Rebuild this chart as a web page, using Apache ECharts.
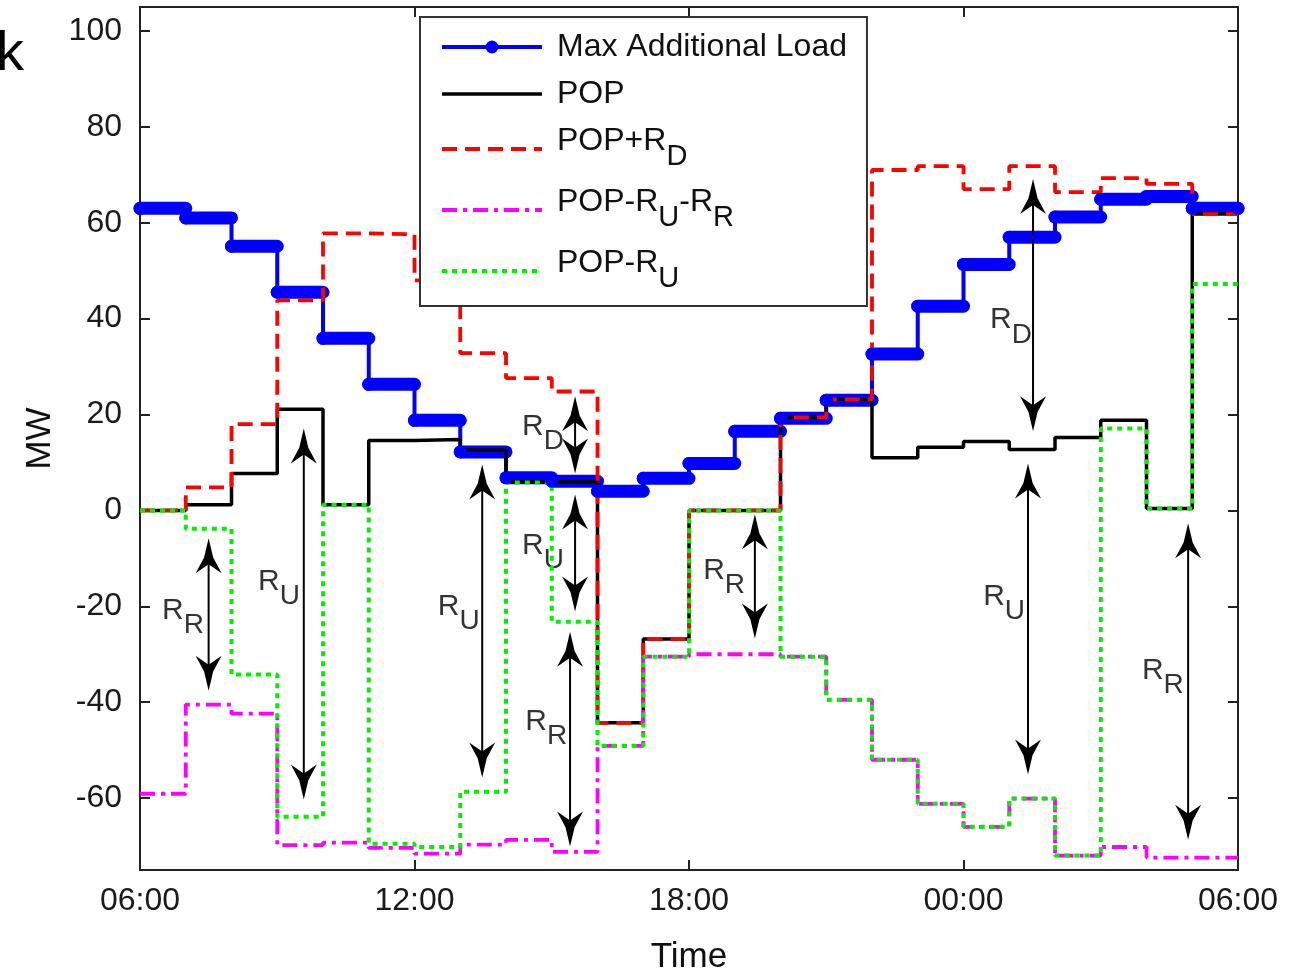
<!DOCTYPE html>
<html>
<head>
<meta charset="utf-8">
<script src="https://cdn.jsdelivr.net/npm/echarts@6/dist/echarts.min.js"></script>
<style>
html, body { margin: 0; background: #fff; }
#main { width: 1296px; height: 975px; }
</style>
</head>
<body>
<div id="main"></div>
<script>
// hour offsets from 06:00 (0 = 06:00-07:00 ... 23 = 05:00-06:00)
const hours = [0,1,2,3,4,5,6,7,8,9,10,11,12,13,14,15,16,17,18,19,20,21,22,23];
const xTickLabels = ['06:00', '12:00', '18:00', '00:00', '06:00'];
const yTickValues = [-60, -40, -20, 0, 20, 40, 60, 80, 100];

// MW values, one per hour
const maxLoad  = [63.0, 61.0, 55.1, 45.5, 35.9, 26.3, 18.8, 12.2, 6.8, 6.1, 4.0, 6.7, 9.8, 16.5, 19.2, 23.0, 32.6, 42.6, 51.3, 57.0, 61.2, 64.9, 65.5, 63.0];
const pop      = [0, 1.2, 7.7, 21.1, 1.2, 14.6, 14.8, 12.6, 6.0, 6.0, -44.3, -26.8, 0, 0, 19.4, 23.2, 11.0, 13.2, 14.4, 12.7, 15.2, 18.8, 0.4, 61.8];
const popRd    = [0, 4.8, 18.0, 43.8, 57.8, 57.6, 48.0, 32.8, 27.6, 24.8, -44.3, -26.8, 0, 0, 19.4, 23.2, 71.0, 71.8, 67.0, 71.8, 66.4, 69.3, 68.1, 61.8];
const popRuRr  = [-59.1, -40.5, -42.4, -69.8, -69.3, -70.4, -71.6, -69.7, -68.7, -71.2, -49.1, -30.5, -30.0, -30.0, -30.5, -39.5, -52.0, -61.2, -66.0, -60.1, -72.0, -70.2, -72.4, -72.4];
const popRu    = [0, -3.8, -34.2, -63.9, 1.2, -69.5, -70.2, -58.7, 5.8, -23.2, -49.1, -30.5, 0, 0, -30.5, -39.5, -52.0, -61.2, -66.0, -60.1, -72.0, 17.1, 0.4, 47.2];

// double arrows: x (hours), upper tip, lower tip (MW)
const arrowX      = [1.50, 3.58, 7.48, 9.51, 9.51, 9.40, 13.44, 19.52, 19.41, 22.91];
const arrowTop    = [-5.8, 17.1, 9.6, 23.8, 3.3, -25.3, -0.8, 69.1, 9.8, -2.7];
const arrowBottom = [-37.6, -60.3, -55.7, 7.7, -21.1, -70.1, -26.7, 16.5, -55.1, -68.7];
// arrow labels: left/top corner position and subscript
const labelX   = [0.48, 2.58, 6.51, 8.35, 8.35, 8.42, 12.31, 18.58, 18.43, 21.90];
const labelY   = [-17.8, -11.7, -16.9, 20.6, -4.2, -40.9, -9.4, 42.8, -14.8, -30.3];
const labelSub = ['R', 'U', 'U', 'D', 'U', 'R', 'R', 'D', 'U', 'R'];

const legendNames = ['Max Additional Load', 'POP', 'POP+RD', 'POP-RU-RR', 'POP-RU'];
const legendText  = ['{m|Max Additional Load}', '{m|POP}', '{m|POP+R}{s|D}', '{m|POP-R}{s|U}{m|-R}{s|R}', '{m|POP-R}{s|U}'];
const legendMarker = [true, false, false, false, false];

const FONT = 'Liberation Sans, Arial, Helvetica, sans-serif';

function stepData(vals) {
  const d = hours.map((h, i) => [h, vals[i]]);
  d.push([24, vals[vals.length - 1]]);
  return d;
}

const chart = echarts.init(document.getElementById('main'), null, { renderer: 'canvas' });

const axisLineStyle = { color: '#222', width: 2 };
const xBase = {
  type: 'value', min: 0, max: 24, interval: 6,
  axisLine: { show: true, onZero: false, lineStyle: axisLineStyle },
  axisTick: { show: true, inside: true, length: 10, lineStyle: axisLineStyle },
  splitLine: { show: false }
};
const yBase = {
  type: 'value', min: -75, max: 105,
  axisLine: { show: true, onZero: false, lineStyle: axisLineStyle },
  axisTick: { show: true, inside: true, length: 10, lineStyle: axisLineStyle, customValues: yTickValues },
  splitLine: { show: false }
};

const option = {
  backgroundColor: '#fff',
  animation: false,
  textStyle: { fontFamily: FONT },
  grid: { left: 140, top: 7, width: 1098, height: 863, containLabel: false, outerBoundsMode: 'none' },
  graphic: [
    { type: 'text', left: -4, top: 27, style: { text: 'k', fontSize: 56, fill: '#000', fontFamily: FONT } }
  ],
  legend: {
    orient: 'vertical', left: 420, top: 17,
    data: legendNames.map((n, i) => ({
      name: n,
      itemStyle: legendMarker[i] ? {} : { opacity: 0 }
    })),
    selectedMode: false,
    itemWidth: 100, itemHeight: 16, itemGap: 15,
    padding: [14, 20, 13, 20],
    borderColor: '#333', borderWidth: 2, backgroundColor: '#fff',
    lineStyle: { width: 'inherit' },
    formatter: name => legendText[legendNames.indexOf(name)],
    textStyle: {
      color: '#111', fontFamily: FONT, padding: [0, 0, 0, 10],
      rich: {
        m: { fontSize: 32, lineHeight: 32, verticalAlign: 'top', fontFamily: FONT, color: '#111' },
        s: { fontSize: 29, lineHeight: 48, verticalAlign: 'top', padding: [17, 0, 0, 0], fontFamily: FONT, color: '#111' }
      }
    }
  },
  xAxis: [
    Object.assign({}, xBase, {
      position: 'bottom',
      axisLabel: {
        fontSize: 32, color: '#1a1a1a', margin: 15, fontFamily: FONT,
        formatter: v => xTickLabels[Math.round(v / 6)]
      },
      name: 'Time', nameLocation: 'middle', nameGap: 70,
      nameTextStyle: { fontSize: 35, color: '#111', fontFamily: FONT }
    }),
    Object.assign({}, xBase, { position: 'top', axisLabel: { show: false } })
  ],
  yAxis: [
    Object.assign({}, yBase, {
      position: 'left',
      axisLabel: { fontSize: 32, color: '#1a1a1a', margin: 18, fontFamily: FONT, customValues: yTickValues },
      name: 'MW', nameLocation: 'middle', nameGap: 78, nameRotate: 90,
      nameTextStyle: { fontSize: 35, color: '#111', fontFamily: FONT }
    }),
    Object.assign({}, yBase, { position: 'right', axisLabel: { show: false } })
  ],
  series: [
    {
      // thick bands of dense markers on the Max Additional Load steps
      name: 'bands', type: 'custom',
      data: hours.map((h, i) => [h, h + 1, maxLoad[i]]),
      renderItem: (params, api) => {
        const a = api.coord([api.value(0), api.value(2)]);
        const b = api.coord([api.value(1), api.value(2)]);
        return {
          type: 'line', shape: { x1: a[0], y1: a[1], x2: b[0], y2: b[1] },
          style: { stroke: '#0000ff', lineWidth: 13, lineCap: 'round' }
        };
      },
      silent: true
    },
    {
      name: 'Max Additional Load', type: 'line', step: 'end',
      data: stepData(maxLoad),
      symbol: 'circle', symbolSize: 13,
      itemStyle: { color: '#0000ff' },
      lineStyle: { color: '#0000ff', width: 4 }
    },
    {
      name: 'POP', type: 'line', step: 'end',
      data: stepData(pop), symbol: 'none',
      itemStyle: { color: '#000' },
      lineStyle: { color: '#000', width: 3.5 }
    },
    {
      name: 'POP+RD', type: 'line', step: 'end',
      data: stepData(popRd), symbol: 'none',
      itemStyle: { color: '#ff0000' },
      lineStyle: { color: '#ff0000', width: 3.8, type: [15, 8] }
    },
    {
      name: 'POP-RU-RR', type: 'line', step: 'end',
      data: stepData(popRuRr), symbol: 'none',
      itemStyle: { color: '#ff00ff' },
      lineStyle: { color: '#ff00ff', width: 3.8, type: [15, 6, 4, 6] }
    },
    {
      name: 'POP-RU', type: 'line', step: 'end',
      data: stepData(popRu), symbol: 'none',
      itemStyle: { color: '#00f000' },
      lineStyle: { color: '#00f000', width: 4, type: [5, 5] }
    },
    {
      name: 'arrows', type: 'custom', silent: true,
      data: arrowX.map((x, i) => [x, arrowTop[i], arrowBottom[i]]),
      renderItem: (params, api) => {
        const t = api.coord([api.value(0), api.value(1)]);
        const b = api.coord([api.value(0), api.value(2)]);
        const x = t[0], hw = 13, hh = 35, nd = 9;
        const head = (y, dir) => [
          [x, y],
          [x + hw * 0.35, y + dir * hh * 0.55],
          [x + hw, y + dir * hh],
          [x, y + dir * (hh - nd)],
          [x - hw, y + dir * hh],
          [x - hw * 0.35, y + dir * hh * 0.55]
        ];
        return {
          type: 'group',
          children: [
            { type: 'line', shape: { x1: x, y1: t[1] + 10, x2: x, y2: b[1] - 10 }, style: { stroke: '#000', lineWidth: 2 } },
            { type: 'polygon', shape: { points: head(t[1], 1) }, style: { fill: '#000' } },
            { type: 'polygon', shape: { points: head(b[1], -1) }, style: { fill: '#000' } }
          ]
        };
      }
    },
    {
      name: 'labels', type: 'scatter', silent: true,
      symbolSize: 0,
      data: labelX.map((x, i) => [x, labelY[i], labelSub[i]]),
      label: {
        show: true, position: [0, 0], align: 'left', verticalAlign: 'top',
        color: '#000', textBorderWidth: 0, textBorderColor: 'transparent',
        formatter: p => '{m|R}{s|' + p.value[2] + '}',
        rich: {
          m: { fontSize: 30, lineHeight: 30, verticalAlign: 'top', color: '#000', fontFamily: FONT, textBorderWidth: 0 },
          s: { fontSize: 28, lineHeight: 30, verticalAlign: 'top', padding: [16, 0, 0, 0], color: '#000', fontFamily: FONT, textBorderWidth: 0 }
        }
      }
    }
  ]
};

chart.setOption(option);
</script>
</body>
</html>
